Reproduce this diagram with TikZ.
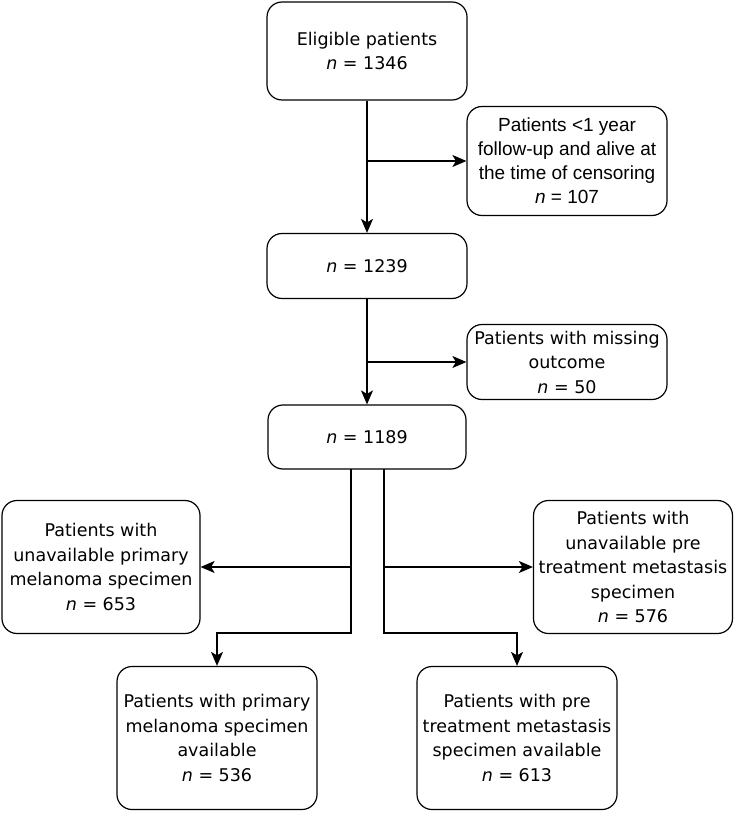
\documentclass[tikz,border=0pt]{standalone}
\usepackage{fontspec}
\setmainfont{DejaVu Sans}
\newfontfamily\arialfont{Liberation Sans}
\usepackage{tikz}
\usetikzlibrary{arrows.meta}

\tikzset{
  flowbox/.style={shape=rectangle, rounded corners=15pt, draw=black, line width=1.2pt,
    align=center, inner sep=2pt, font=\fontsize{17.5}{24.5}\selectfont},
  flowarrow/.style={-{Stealth[length=14pt, width=12pt, inset=3.5pt]}},
}

\begin{document}
\begin{tikzpicture}[x=1pt, y=-1pt, line width=1.2pt]
        \useasboundingbox (0,0) rectangle (735,818);

        \node[flowbox, minimum width=200pt, minimum height=98pt] (A) at (367,51) {Eligible patients\\ \textit{n} = 1346};
        \node[flowbox, minimum width=200pt, minimum height=109pt, font=\arialfont\fontsize{19}{24}\selectfont] (B) at (567,161) {Patients <1 year\\ follow-up and alive at\\ the time of censoring\\ \textit{n} = 107};
        \node[flowbox, minimum width=200pt, minimum height=65pt] (C) at (367,266) {\textit{n} = 1239};
        \node[flowbox, minimum width=200pt, minimum height=75pt] (D) at (567,362) {Patients with missing\\ outcome\\ \textit{n} = 50};
        \node[flowbox, minimum width=198pt, minimum height=64pt] (E) at (367,437) {\textit{n} = 1189};
        \node[flowbox, minimum width=198pt, minimum height=133pt] (F) at (101,567) {Patients with\\ unavailable primary\\ melanoma specimen\\ \textit{n} = 653};
        \node[flowbox, minimum width=199pt, minimum height=133pt] (G) at (633,567) {Patients with\\ unavailable pre\\ treatment metastasis\\ specimen\\ \textit{n} = 576};
        \node[flowbox, minimum width=200pt, minimum height=143pt] (H) at (217,738) {Patients with primary\\ melanoma specimen\\ available\\ \textit{n} = 536};
        \node[flowbox, minimum width=200pt, minimum height=143pt] (I) at (517,738) {Patients with pre\\ treatment metastasis\\ specimen available\\ \textit{n} = 613};

        \coordinate (a1) at (367,161);
        \coordinate (c1) at (367,362);
        \coordinate (e1) at (351,469);
        \coordinate (e2) at (351,567);
        \coordinate (e3) at (351,633);
        \coordinate (e4) at (384,469);
        \coordinate (e5) at (384,567);
        \coordinate (e6) at (384,633);

    \begin{scope}[every path/.style={draw=black}]

        \draw [flowarrow](A) -- (C);
        \draw [flowarrow](a1) -- (B);
        \draw [flowarrow](C) -- (E);
        \draw [flowarrow](c1) -- (D);
        \draw [flowarrow](e2) -- (F);
        \draw [flowarrow](e5) -- (G);
        \draw [flowarrow](e1) -- (e3) -| (H);
        \draw [flowarrow](e4) -- (e6) -| (I);

    \end{scope}

    \end{tikzpicture}
\end{document}
